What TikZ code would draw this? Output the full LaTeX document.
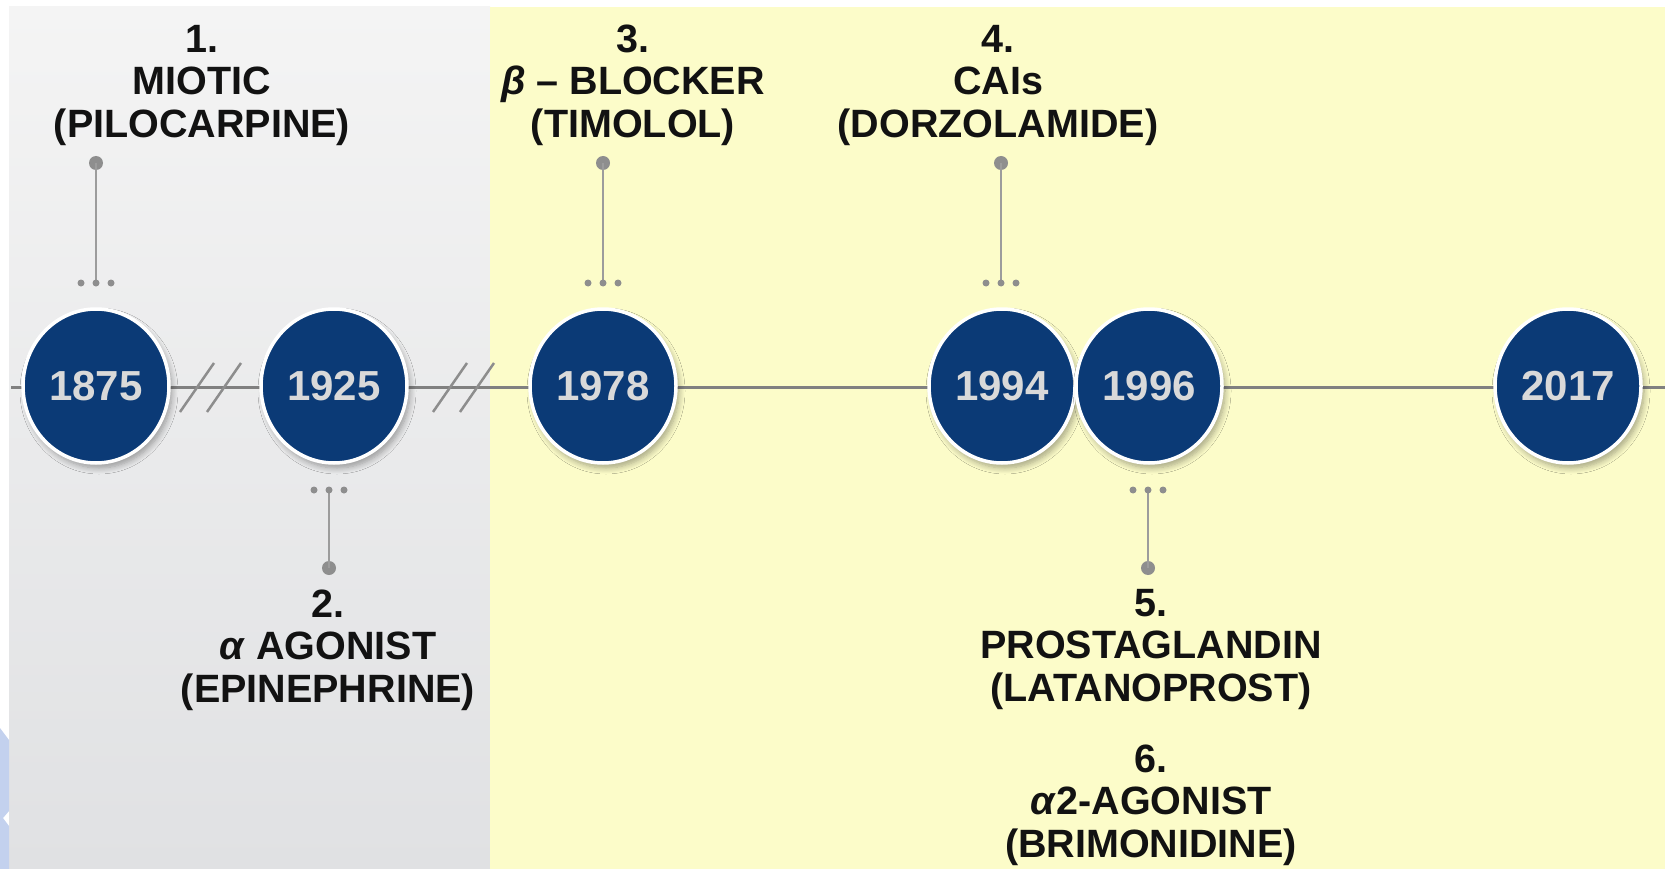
\documentclass[tikz,border=0pt]{standalone}
\usepackage{fontspec}
\setmainfont{Liberation Sans}
\usetikzlibrary{shapes.geometric,shadows.blur}
\definecolor{navy}{HTML}{0B3A76}
\definecolor{panelyellow}{HTML}{FCFCC9}
\definecolor{graytop}{HTML}{F4F4F4}
\definecolor{graybot}{HTML}{E0E1E3}
\definecolor{linegray}{HTML}{808080}
\definecolor{stemgray}{HTML}{9C9C9C}
\definecolor{dotgray}{HTML}{8E8E8E}
\definecolor{yeartext}{HTML}{D9D9D9}
\definecolor{edgeblue}{HTML}{C3D1EE}
\definecolor{labeltext}{HTML}{121212}
\begin{document}
\begin{tikzpicture}[x=1pt,y=-1pt,
  yearnode/.style={shape=ellipse, minimum width=146pt, minimum height=154pt, inner sep=0pt,
    fill=navy, draw=white, line width=3.5pt,
    blur shadow={shadow xshift=3pt, shadow yshift=-5pt, shadow blur steps=8, shadow blur radius=6pt, shadow opacity=35},
    text=yeartext, font=\fontsize{42}{42}\selectfont\bfseries},
  lbl/.style={anchor=north, inner sep=0pt, align=center, text=labeltext,
    font=\fontsize{39.5}{42.5}\selectfont\bfseries},
  bigdot/.style={circle, fill=dotgray, minimum size=14pt, inner sep=0pt},
  smalldot/.style={circle, fill=dotgray, minimum size=7pt, inner sep=0pt},
  stem/.style={draw=stemgray, line width=2pt},
  tl/.style={draw=linegray, line width=3pt},
  brk/.style={draw=linegray!90, line width=2.5pt}
]
\useasboundingbox (0,0) rectangle (1665,869);
\fill[white] (0,0) rectangle (1665,869);
% panels
\shade[top color=graytop, bottom color=graybot] (9,7) rectangle (490,869);
\fill[panelyellow] (490,7) rectangle (1665,869);
\fill[edgeblue] (0,728) -- (9,740) -- (9,811) -- (3,818) -- (9,826) -- (9,869) -- (0,869) -- cycle;

% timeline
\coordinate (tlL) at (11,387);
\coordinate (tlR) at (1665,387);
\draw[tl] (tlL) -- (tlR);

% break marks
\coordinate (b1a) at (180,412); \coordinate (b1b) at (214,363);
\coordinate (b2a) at (207,412); \coordinate (b2b) at (241,363);
\coordinate (b3a) at (433,412); \coordinate (b3b) at (467,363);
\coordinate (b4a) at (460,412); \coordinate (b4b) at (494,363);
\draw[brk] (b1a) -- (b1b);
\draw[brk] (b2a) -- (b2b);
\draw[brk] (b3a) -- (b3b);
\draw[brk] (b4a) -- (b4b);

% year circles
\node[yearnode] (y1875) at (96,386) {1875};
\node[yearnode] (y1925) at (334,386) {1925};
\node[yearnode] (y1978) at (603,386) {1978};
\node[yearnode] (y1994) at (1002,386) {1994};
\node[yearnode] (y1996) at (1149,386) {1996};
\node[yearnode] (y2017) at (1568,386) {2017};

% top stems
\foreach \n/\x in {a/96, c/603, d/1001}{
  \node[bigdot] (p\n) at (\x,163) {};
  \coordinate (s\n) at (\x,283);
  \draw[stem] (p\n.center) -- (s\n);
  \node[smalldot] (l\n) at (\x-15,283) {};
  \node[smalldot] (m\n) at (\x,283) {};
  \node[smalldot] (r\n) at (\x+15,283) {};
}
% bottom stems
\foreach \n/\x in {b/329, e/1148}{
  \node[bigdot] (p\n) at (\x,568) {};
  \coordinate (s\n) at (\x,490);
  \draw[stem] (p\n.center) -- (s\n);
  \node[smalldot] (l\n) at (\x-15,490) {};
  \node[smalldot] (m\n) at (\x,490) {};
  \node[smalldot] (r\n) at (\x+15,490) {};
}

% labels
\node[lbl] (t1) at (202,24.7) {1.\\MIOTIC\\(PILOCARPINE)};
\node[lbl] (t3) at (633,24.7) {3.\\\textit{β} – BLOCKER\\(TIMOLOL)};
\node[lbl] (t4) at (998,24.7) {4.\\CAIs\\(DORZOLAMIDE)};
\node[lbl] (t2) at (328,589.7) {2.\\\textit{α} AGONIST\\(EPINEPHRINE)};
\node[lbl] (t5) at (1151,589) {5.\\PROSTAGLANDIN\\(LATANOPROST)};
\node[lbl] (t6) at (1151,744.7) {6.\\\textit{α}2-AGONIST\\(BRIMONIDINE)};
\end{tikzpicture}
\end{document}
